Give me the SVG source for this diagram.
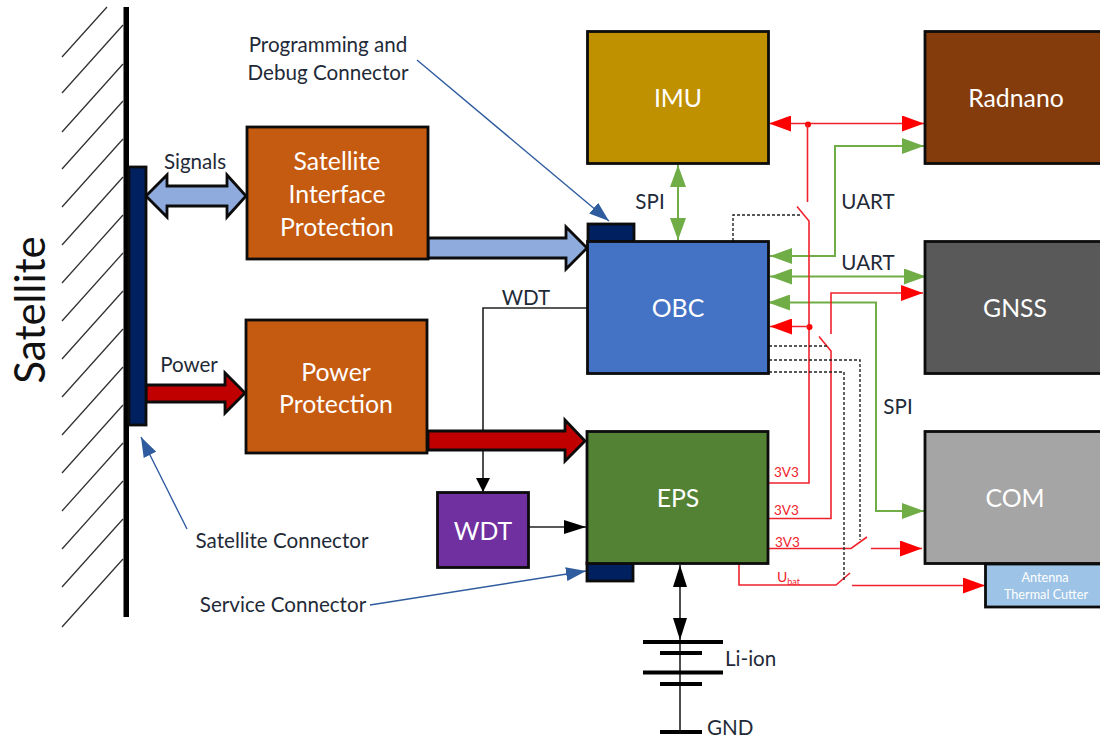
<svg xmlns="http://www.w3.org/2000/svg" width="1100" height="737" viewBox="0 0 1100 737">
<style>
text{font-family:"Lato","Open Sans","Liberation Sans",sans-serif;fill:#1f2a38;font-size:20.6px}
.n{fill:#fff;font-size:24.800px;text-anchor:middle}
.b{stroke:#0c0c0c;stroke-width:2.8}
.g{fill:none;stroke:#70ad47;stroke-width:2}
.r{fill:none;stroke:#f0222c;stroke-width:1.6}
.d{fill:none;stroke:#222;stroke-width:1.4;stroke-dasharray:3 2}
.h{stroke:#333;stroke-width:1.3}
.l{fill:none;stroke:#2f5c9f;stroke-width:1.4}
.k{fill:none;stroke:#222;stroke-width:1.6}
.t{fill:#f0222c;font-size:13.500px}
</style>
<defs>
<marker id="ar" markerUnits="userSpaceOnUse" markerWidth="22" markerHeight="16" refX="22" refY="8" orient="auto-start-reverse"><path d="M0 0L22 8L0 16z" fill="#f00"/></marker>
<marker id="ag" markerUnits="userSpaceOnUse" markerWidth="22" markerHeight="16" refX="22" refY="8" orient="auto-start-reverse"><path d="M0 0L22 8L0 16z" fill="#70ad47"/></marker>
<marker id="ak" markerUnits="userSpaceOnUse" markerWidth="14" markerHeight="20" refX="14" refY="7" orient="auto-start-reverse"><path d="M0 0L14 7L0 14z" fill="#000"/></marker>
<marker id="akb" markerUnits="userSpaceOnUse" markerWidth="22" markerHeight="16" refX="22" refY="7" orient="auto-start-reverse"><path d="M0 0L22 7L0 14z" fill="#000"/></marker>
<marker id="al" markerUnits="userSpaceOnUse" markerWidth="20" markerHeight="14" refX="20" refY="7" orient="auto"><path d="M0 0L20 7L0 14z" fill="#2f5c9f"/></marker>
</defs>

<g id="wall">
<g class="h">
<path d="M62 57L107 7M62 93L123 25M62 132L123 64M62 169L123 101M62 207L123 139M62 245L123 177M62 283L123 215M62 321L123 253M62 359L123 291M62 397L123 329M62 435L123 367M62 473L123 405M62 511L123 443M62 549L123 481M62 587L123 519M62 627L123 559" fill="none"/>
</g>
<rect x="123.500" y="7" width="5.500" height="610" fill="#000"/>
<text x="45" y="310" transform="rotate(-90 45 310)" text-anchor="middle" style="font-size:42px;fill:#111">Satellite</text>
</g>

<g id="connectors">
<g id="thin">
<path class="k" d="M587 308H483V492" marker-end="url(#ak)"/>
<path class="k" d="M529 527H586" marker-end="url(#akb)"/>
<path class="k" d="M680 565V640" marker-start="url(#akb)" marker-end="url(#akb)"/>
<path class="k" d="M680 641V731"/>
<path class="g" d="M678 165V240" marker-start="url(#ag)" marker-end="url(#ag)"/>
<path class="g" d="M770 256H835V146H924" marker-start="url(#ag)" marker-end="url(#ag)"/>
<path class="g" d="M770 276.500H926" marker-start="url(#ag)" marker-end="url(#ag)"/>
<path class="g" d="M768 302.500H876V511H924" marker-start="url(#ag)" marker-end="url(#ag)"/>
<path class="r" d="M769 123.500H924" marker-start="url(#ar)" marker-end="url(#ar)"/>
<circle cx="808" cy="124.500" r="3" fill="#f00"/>
<path class="r" d="M807.500 124V202"/>
<path class="r" d="M797 206.500L809 221V483H769"/>
<circle cx="809.500" cy="327" r="3" fill="#f00"/>
<path class="r" d="M809 326.500H770" marker-end="url(#ar)"/>
<path class="r" d="M831 334V293H923" marker-end="url(#ar)"/>
<path class="r" d="M819 336.500L831 351V518.500H769"/>
<path class="r" d="M769 548.500H851L867 537"/>
<path class="r" d="M871 548.500H922" marker-end="url(#ar)"/>
<path class="r" d="M739 564V585H836L850 573"/>
<path class="r" d="M852 585.500H985" marker-end="url(#ar)"/>
<path class="d" d="M733 241V215H802"/>
<path class="d" d="M769 346H827"/>
<path class="d" d="M769 360H860V540"/>
<path class="d" d="M769 372H844V580"/>
<path class="l" d="M417 60L609 221" marker-end="url(#al)"/>
<path class="l" d="M187 529L141 437" marker-end="url(#al)"/>
<path class="l" d="M370 605L586 571" marker-end="url(#al)"/>
</g>
<path class="b" fill="#8faadc" d="M146 196L167 175V186H227V175L246 196L227 217V206H167V217z"/>
<path class="b" fill="#8faadc" d="M428 238H566V227L587 248L566 269V258H428z"/>
<path class="b" fill="#c00000" d="M146 385H225V373L245 393L225 413V402H146z"/>
<path class="b" fill="#c00000" d="M428 431H565V420L585 441L565 461V450H428z"/>
</g>

<g id="satellite-connector"><rect class="b" x="129" y="167" width="17" height="258" fill="#002060"/></g>
<g id="prog-connector"><rect class="b" x="588" y="224" width="46" height="18" fill="#002060"/></g>
<g id="service-connector"><rect class="b" x="587" y="563" width="46" height="18" fill="#002060"/></g>

<g id="sip"><rect class="b" x="247" y="127" width="181" height="132" fill="#c55a11"/>
<text class="n" x="337" y="170">Satellite</text><text class="n" x="337" y="203">Interface</text><text class="n" x="337" y="236">Protection</text></g>
<g id="pp"><rect class="b" x="246" y="320" width="181" height="133" fill="#c55a11"/>
<text class="n" x="336" y="381">Power</text><text class="n" x="336" y="413">Protection</text></g>
<g id="imu"><rect class="b" x="587.500" y="31.500" width="181" height="132" fill="#bf9000"/><text class="n" x="678" y="107">IMU</text></g>
<g id="radnano"><rect class="b" x="925" y="31.500" width="180" height="132" fill="#843c0c"/><text class="n" x="1016" y="107">Radnano</text></g>
<g id="obc"><rect class="b" x="587.500" y="241.500" width="181" height="132" fill="#4472c4"/><text class="n" x="678" y="317">OBC</text></g>
<g id="gnss"><rect class="b" x="925" y="241.500" width="180" height="132" fill="#595959"/><text class="n" x="1015" y="317">GNSS</text></g>
<g id="eps"><rect class="b" x="587" y="431.500" width="181" height="132" fill="#548235"/><text class="n" x="678" y="507">EPS</text></g>
<g id="com"><rect class="b" x="925" y="431.500" width="180" height="132" fill="#a5a5a5"/><text class="n" x="1015" y="507">COM</text></g>
<g id="wdt"><rect class="b" x="437.500" y="492.500" width="91" height="75" fill="#7030a0"/><text class="n" x="483" y="540">WDT</text></g>
<g id="atc"><rect class="b" x="985.500" y="564" width="120" height="43" fill="#9dc3e6"/>
<text x="1045" y="582" text-anchor="middle" style="fill:#fff;font-size:12.700px">Antenna</text><text x="1046" y="599" text-anchor="middle" style="fill:#fff;font-size:12.700px">Thermal Cutter</text></g>

<g id="battery" stroke="#000" stroke-width="4">
<path d="M643 642H723M660 653H702M643 672.500H723M660 684H702M660 732H702"/>
</g>

<g id="labels">
<text x="328" y="52" text-anchor="middle">Programming and</text>
<text x="328" y="80" text-anchor="middle">Debug Connector</text>
<text x="195" y="169" text-anchor="middle">Signals</text>
<text x="189" y="372" text-anchor="middle">Power</text>
<text x="282" y="548" text-anchor="middle">Satellite Connector</text>
<text x="283" y="612" text-anchor="middle">Service Connector</text>
<text x="526" y="305" text-anchor="middle">WDT</text>
<text x="650" y="209" text-anchor="middle">SPI</text>
<text x="868" y="209" text-anchor="middle">UART</text>
<text x="868" y="270" text-anchor="middle">UART</text>
<text x="898" y="414" text-anchor="middle">SPI</text>
<text x="725" y="666">Li-ion</text>
<text x="707" y="735">GND</text>
<text class="t" x="774" y="477">3V3</text>
<text class="t" x="774" y="515">3V3</text>
<text class="t" x="775" y="547">3V3</text>
<text class="t" x="777" y="582" style="font-size:14px">U<tspan dy="3" style="font-size:9px">bat</tspan></text>
</g>
</svg>
